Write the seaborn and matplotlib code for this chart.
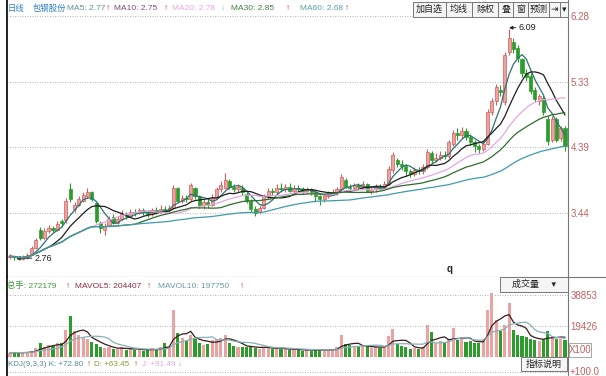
import numpy as np
import pandas as pd
import seaborn as sns
import matplotlib.pyplot as plt
from matplotlib.patches import Rectangle
from matplotlib.lines import Line2D

# daily candles (yuan)
opens = [2.80, 2.82, 2.80, 2.78, 2.80, 2.84, 2.93, 3.20, 3.08, 3.18,
         3.22, 3.20, 3.32, 3.34, 3.78, 3.50, 3.56, 3.62, 3.68, 3.74,
         3.58, 3.30, 3.20, 3.26, 3.38, 3.30, 3.36, 3.42, 3.40, 3.46,
         3.44, 3.48, 3.45, 3.42, 3.48, 3.46, 3.50, 3.48, 3.52, 3.80,
         3.62, 3.66, 3.64, 3.80, 3.68, 3.55, 3.60, 3.56, 3.66, 3.78,
         3.80, 3.90, 3.82, 3.78, 3.80, 3.72, 3.62, 3.50, 3.45, 3.52,
         3.68, 3.76, 3.74, 3.80, 3.78, 3.82, 3.76, 3.80, 3.78, 3.76,
         3.78, 3.74, 3.68, 3.64, 3.68, 3.72, 3.74, 3.78, 3.92, 3.82,
         3.80, 3.84, 3.82, 3.86, 3.76, 3.78, 3.82, 3.80, 3.86, 4.06,
         4.20, 4.14, 4.12, 4.04, 4.00, 4.06, 4.04, 4.10, 4.30, 4.20,
         4.24, 4.28, 4.26, 4.44, 4.60, 4.56, 4.62, 4.54, 4.46, 4.40,
         4.36, 4.44, 4.90, 5.06, 5.22, 5.04, 5.76, 5.90, 5.82, 5.66,
         5.46, 5.42, 5.22, 5.06, 5.10, 4.80, 4.50, 4.80, 4.52, 4.66]
closes = [2.82, 2.80, 2.78, 2.80, 2.84, 2.93, 3.05, 3.08, 3.18, 3.22,
          3.20, 3.28, 3.30, 3.62, 3.64, 3.56, 3.64, 3.70, 3.74, 3.65,
          3.32, 3.22, 3.26, 3.36, 3.30, 3.36, 3.42, 3.40, 3.46, 3.44,
          3.48, 3.45, 3.42, 3.48, 3.46, 3.50, 3.48, 3.52, 3.80, 3.62,
          3.66, 3.64, 3.84, 3.68, 3.55, 3.60, 3.56, 3.66, 3.78, 3.84,
          3.92, 3.82, 3.78, 3.82, 3.74, 3.62, 3.50, 3.44, 3.52, 3.68,
          3.76, 3.74, 3.80, 3.78, 3.82, 3.76, 3.80, 3.78, 3.76, 3.78,
          3.74, 3.68, 3.64, 3.68, 3.72, 3.74, 3.78, 3.96, 3.82, 3.80,
          3.84, 3.82, 3.86, 3.76, 3.78, 3.82, 3.80, 3.86, 4.08, 4.28,
          4.14, 4.12, 4.04, 4.00, 4.06, 4.04, 4.10, 4.32, 4.20, 4.24,
          4.28, 4.26, 4.46, 4.60, 4.56, 4.62, 4.54, 4.46, 4.40, 4.36,
          4.44, 4.90, 5.06, 5.26, 5.18, 5.72, 5.96, 5.80, 5.68, 5.46,
          5.40, 5.20, 5.08, 5.12, 4.90, 4.48, 4.80, 4.50, 4.66, 4.40]
highs = [2.85, 2.84, 2.82, 2.83, 2.86, 2.96, 3.08, 3.24, 3.22, 3.27,
         3.26, 3.32, 3.36, 3.66, 3.88, 3.60, 3.68, 3.74, 3.80, 3.76,
         3.60, 3.33, 3.30, 3.40, 3.42, 3.40, 3.48, 3.46, 3.50, 3.50,
         3.52, 3.51, 3.48, 3.52, 3.53, 3.55, 3.54, 3.56, 3.84, 3.82,
         3.70, 3.70, 3.88, 3.82, 3.70, 3.64, 3.66, 3.72, 3.82, 3.90,
         4.02, 3.93, 3.86, 3.86, 3.84, 3.75, 3.64, 3.54, 3.56, 3.72,
         3.80, 3.80, 3.86, 3.88, 3.86, 3.88, 3.84, 3.85, 3.82, 3.82,
         3.80, 3.76, 3.70, 3.72, 3.76, 3.78, 3.82, 4.00, 3.94, 3.86,
         3.88, 3.88, 3.90, 3.88, 3.82, 3.86, 3.86, 3.90, 4.12, 4.32,
         4.24, 4.20, 4.14, 4.08, 4.10, 4.10, 4.14, 4.36, 4.34, 4.30,
         4.34, 4.33, 4.50, 4.64, 4.66, 4.68, 4.66, 4.58, 4.50, 4.44,
         4.48, 4.94, 5.10, 5.30, 5.28, 5.76, 6.09, 5.96, 5.86, 5.68,
         5.52, 5.46, 5.26, 5.16, 5.14, 4.84, 4.84, 4.82, 4.70, 4.70]
lows = [2.78, 2.77, 2.76, 2.76, 2.78, 2.83, 2.92, 3.05, 3.06, 3.15,
        3.17, 3.18, 3.24, 3.30, 3.60, 3.46, 3.54, 3.60, 3.66, 3.62,
        3.30, 3.15, 3.13, 3.24, 3.28, 3.28, 3.34, 3.36, 3.38, 3.40,
        3.42, 3.41, 3.38, 3.40, 3.43, 3.44, 3.45, 3.46, 3.50, 3.60,
        3.58, 3.60, 3.62, 3.64, 3.52, 3.50, 3.52, 3.54, 3.64, 3.74,
        3.78, 3.78, 3.74, 3.75, 3.70, 3.58, 3.46, 3.40, 3.42, 3.50,
        3.64, 3.70, 3.72, 3.74, 3.75, 3.74, 3.72, 3.74, 3.72, 3.73,
        3.70, 3.62, 3.56, 3.60, 3.66, 3.70, 3.70, 3.76, 3.80, 3.76,
        3.78, 3.78, 3.80, 3.74, 3.72, 3.75, 3.77, 3.78, 3.84, 4.02,
        4.10, 4.06, 3.98, 3.96, 3.98, 4.00, 4.00, 4.08, 4.16, 4.18,
        4.20, 4.22, 4.24, 4.40, 4.50, 4.52, 4.50, 4.42, 4.32, 4.30,
        4.34, 4.42, 4.86, 5.00, 5.12, 5.00, 5.72, 5.74, 5.62, 5.40,
        5.34, 5.16, 5.04, 5.00, 4.86, 4.42, 4.46, 4.46, 4.48, 4.34]
# volume in lots of 100 shares
volumes = [2800, 2500, 3000, 2600, 3200, 4000, 5500, 8800, 6500, 7500,
           7000, 8500, 9000, 17000, 26000, 16000, 13500, 12000, 11000, 9500,
           8000, 6500, 5500, 6000, 5000, 4800, 6500, 4500, 5200, 4200,
           5000, 4000, 4300, 5500, 4500, 6000, 9000, 6500, 29500, 15000,
           12000, 10000, 14000, 11000, 9000, 7500, 8000, 10700, 11500, 12000,
           13800, 9000, 7000, 6500, 6000, 6500, 7000, 5500, 5000, 6500,
           6000, 5000, 5500, 5000, 4800, 4500, 5000, 4200, 4000, 4500,
           4000, 5000, 4500, 3800, 4200, 5000, 6000, 14000, 8000, 7500,
           7000, 6500, 6500, 7000, 5500, 6000, 5800, 7000, 13000, 17500,
           8000, 7000, 6500, 5000, 5500, 5000, 6000, 20000, 15500, 9000,
           10000, 8500, 11000, 18000, 10500, 11000, 9500, 10000, 9000, 8500,
           10700, 29500, 40000, 23000, 16000, 20000, 33800, 17000, 13500, 13000,
           12500, 11500, 10500, 10000, 11000, 16000, 13000, 11000, 11500, 10500]

price_ticks = [6.28, 5.33, 4.39, 3.44]
vol_ticks = [38853, 19426]
ma_windows = [5, 10, 20, 30, 60]
ma_colors = ["#2d7272", "#1e1e1e", "#e4a6e2", "#2e6e2e", "#3f9cac"]
vol_ma_windows = [5, 10]
vol_ma_colors = ["#3a1c1c", "#86b0b8"]

W, H = 606, 376
UP, UP_EDGE, DOWN = "#eda2a2", "#d35c5c", "#2c9c2c"
RED, BLUE = "#d42020", "#6cc2e6"
FS = 6.0

sns.set_style("white")
plt.rcParams["font.family"] = ["Liberation Sans", "Noto Sans CJK SC", "DejaVu Sans"]

df = pd.DataFrame({"open": opens, "close": closes, "high": highs,
                   "low": lows, "volume": volumes})
df["idx"] = np.arange(len(df))
df["dir"] = np.where(df.close >= df.open, "up", "down")


def fx(px):
    return px / W


def fy(py):
    return 1 - py / H


fig = plt.figure(figsize=(W / 100, H / 100), dpi=100)
L, R = 7, 568
ax = fig.add_axes([fx(L), fy(277), fx(R) - fx(L), 277 / H])
axv = fig.add_axes([fx(L), fy(357), fx(R) - fx(L), 80 / H])
axk = fig.add_axes([fx(L), 0, fx(R) - fx(L), 19 / H])

# candles
up = df.dir == "up"
face = np.where(up, UP, DOWN)
edge = np.where(up, UP_EDGE, DOWN)
ax.vlines(df.idx, df.low, df.high, colors=edge, linewidth=0.8, zorder=2)
body = (df.close - df.open).abs().clip(lower=0.012)
ax.bar(df.idx, body, bottom=df[["open", "close"]].min(axis=1), width=0.72,
       color=face, edgecolor=edge, linewidth=0.5, zorder=3)

for win, col in zip(ma_windows, ma_colors):
    sns.lineplot(x=df.idx, y=df.close.rolling(win, min_periods=1).mean(),
                 ax=ax, color=col, linewidth=0.9, zorder=4)

ax.annotate("6.09", xy=(116, 6.11), xytext=(118.3, 6.11), fontsize=6.5,
            va="center", ha="left", color="#222",
            arrowprops=dict(arrowstyle="-|>", color="#222", lw=0.7,
                            mutation_scale=5, shrinkA=0, shrinkB=0))
ax.annotate("2.76", xy=(1.5, 2.79), xytext=(5.8, 2.79), fontsize=6.5,
            va="center", ha="left", color="#222",
            arrowprops=dict(arrowstyle="-|>", color="#222", lw=0.7,
                            mutation_scale=5, shrinkA=0, shrinkB=0))

ax.set_xlim(-0.7, 129.7)
ax.set_ylim(2.519, 6.51)
ax.yaxis.tick_right()
ax.set_yticks(price_ticks)
ax.set_yticklabels([f"{v:.2f}" for v in price_ticks])

# volume
sns.barplot(data=df, x="idx", y="volume", hue="dir",
            palette={"up": UP, "down": DOWN}, dodge=False, width=0.72,
            legend=False, errorbar=None, saturation=1, linewidth=0, ax=axv)
for win, col in zip(vol_ma_windows, vol_ma_colors):
    sns.lineplot(x=df.idx, y=df.volume.rolling(win, min_periods=1).mean(),
                 ax=axv, color=col, linewidth=0.9)
axv.set_xlim(-0.7, 129.7)
axv.set_ylim(0, 50150)
axv.yaxis.tick_right()
axv.set_yticks(vol_ticks)
axv.set_yticklabels([str(v) for v in vol_ticks])

axk.set_xlim(0, 1)
axk.set_ylim(0, 19)
axk.axhline(4, color="#999", lw=0.6, ls=(0, (1, 2)))
axk.set_yticks([])

for a in (ax, axv, axk):
    a.set_xticks([])
    a.set(xlabel="", ylabel="")
    a.tick_params(axis="y", length=0, pad=2, labelsize=7, labelcolor="#c46060")
    a.spines["top"].set_visible(False)
    a.spines["left"].set_color("#111")
    a.spines["left"].set_linewidth(1.3)
    a.spines["right"].set_color("#777")
    a.spines["right"].set_linewidth(0.8)
    a.spines["bottom"].set_color("#777")
    a.spines["bottom"].set_linewidth(0.8)
axk.spines["bottom"].set_visible(False)
for a in (ax, axv):
    a.grid(axis="y", color="#999", lw=0.6, ls=(0, (1, 2)))
    a.grid(axis="x", visible=False)

fig.add_artist(Line2D([fx(R), 1], [fy(277), fy(277)], color="#777", lw=0.8))


def label_row(items, y, fs=FS):
    for x, s, c in items:
        fig.text(fx(x), fy(y), s, color=c, fontsize=fs, va="center", ha="left")


label_row([(8, "日线", "#2f80c0"), (33, "包钢股份", "#2f80c0"),
           (67, "MA5: 2.77", "#5f8f97"), (106, "↑", RED),
           (114, "MA10: 2.75", "#7a4a7a"), (164, "↑", RED),
           (172, "MA20: 2.78", "#e8a6e6"), (221, "↓", BLUE),
           (231, "MA30: 2.85", "#3e7e3e"), (286, "↑", RED),
           (300, "MA60: 2.68", "#54a0ac"), (345, "↑", RED)], 9)
label_row([(7, "总手: 272179", "#3c9c3c"), (66, "↑", RED),
           (75, "MAVOL5: 204407", "#8c2c3c"), (147, "↑", RED),
           (158, "MAVOL10: 197750", "#6a9aa4"), (240, "↑", RED)], 286)
label_row([(8, "KDJ(9,3,3) K: +72.80", "#5a8a94"), (87, "↑", RED),
           (94, "D: +63.45", "#8aa030"), (134, "↑", RED),
           (142, "J: +91.49", "#e8a6e6"), (178, "↓", BLUE)], 364, fs=5.8)

fig.text(fx(450), fy(269), "q", fontsize=7, weight="bold", ha="center", va="center")
fig.text(fx(570), fy(372), "+100.0", fontsize=7, color="#c46060", va="center")


def button(x0, x1, y0, y1, s):
    fig.add_artist(Rectangle((fx(x0), fy(y1)), fx(x1) - fx(x0), (y1 - y0) / H,
                             facecolor="#f5f5f5", edgecolor="#777", lw=0.7))
    fig.text(fx((x0 + x1) / 2), fy((y0 + y1) / 2), s, fontsize=6.5,
             ha="center", va="center", color="#222")


for s, x0, x1 in [("加自选", 413, 446), ("均线", 446, 472), ("除权", 472, 498),
                  ("叠", 498, 513), ("窗", 513, 528), ("预测", 528, 549),
                  ("⇥", 549, 560), ("▾", 560, 568)]:
    button(x0, x1, 2, 17, s)
button(500, 568, 277, 292, "成交量     ▾")
button(521, 567, 357, 371, "指标说明")
fig.add_artist(Rectangle((fx(569), fy(357)), fx(591) - fx(569), 14 / H,
                         facecolor="none", edgecolor="#999", lw=0.6))
fig.text(fx(580), fy(350), "X100", fontsize=7, color="#c46060", ha="center", va="center")

fig.savefig("out.png", dpi=100)
